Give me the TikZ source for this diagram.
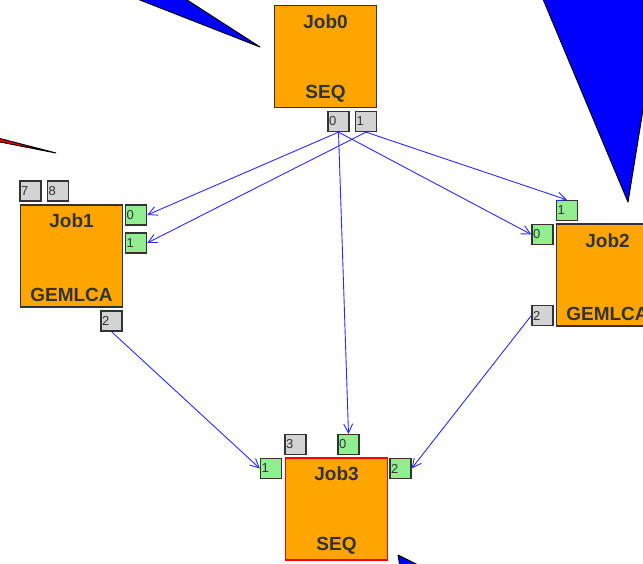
\documentclass[tikz,border=0pt]{standalone}
\usepackage{fontspec}
\setmainfont{Liberation Sans}
\usetikzlibrary{arrows,arrows.meta,positioning}
\definecolor{jobfill}{HTML}{FFA500}
\definecolor{portgray}{HTML}{D3D3D3}
\definecolor{portgreen}{HTML}{90EE90}
\definecolor{edgegray}{HTML}{333333}
\definecolor{textgray}{HTML}{333333}
\definecolor{linkblue}{HTML}{2B2BFF}
\tikzset{job/.style={draw=edgegray,fill=jobfill,line width=1.5pt,minimum width=102pt,minimum height=102pt,inner sep=0pt}}
\tikzset{jobtext/.style={text=textgray,font=\fontsize{19}{19}\selectfont\bfseries,inner sep=0pt}}
\tikzset{port/.style={draw=edgegray,line width=1.3pt,minimum width=21pt,minimum height=20pt,inner sep=1pt,text width=19pt,align=left,font=\fontsize{13}{13}\selectfont,text=textgray}}
\tikzset{inport/.style={port,fill=portgreen}}
\tikzset{outport/.style={port,fill=portgray}}
\tikzset{link/.style={-{Straight Barb[length=9pt,width=9pt]},draw=linkblue,line width=0.9pt}}
\tikzset{pointer/.style={fill=blue,draw=black,line width=1pt,line join=round}}

\begin{document}
\begin{tikzpicture}[x=1pt,y=-1pt]
\useasboundingbox (0,0) rectangle (643,563);
\fill[white] (0,0) rectangle (643,563);
\clip (0,0) rectangle (643,563);
% pointers
\path[pointer] (89,-20) -- (156,-20) -- (260,47) -- cycle;
\path[pointer] (535,-20) -- (628,202) -- (664,-20) -- cycle;
\path[pointer] (398,555) -- (432,572) -- (401,572) -- cycle;
\path[fill=red,draw=black,line width=1pt] (-10,136) -- (-10,140) -- (56,153) -- cycle;
% jobs
\node (j0) [job] at (325.5,56.5) {};
\node (j0t) [jobtext,below=10pt of j0.north] {Job0};
\node (j0b) [jobtext,above=6pt of j0.south] {SEQ};
\node (j1) [job] at (71.5,256) {};
\node (j1t) [jobtext,below=9pt of j1.north] {Job1};
\node (j1b) [jobtext,above=6pt of j1.south] {GEMLCA};
\node (j2) [job] at (607.5,275) {};
\node (j2t) [jobtext,below=10pt of j2.north] {Job2};
\node (j2b) [jobtext,above=6pt of j2.south] {GEMLCA};
\node (j3) [job,draw=red] at (336.5,509) {};
\node (j3t) [jobtext,below=9pt of j3.north] {Job3};
\node (j3b) [jobtext,above=6pt of j3.south] {SEQ};
% ports
\node (j0p0) [outport] at (338.5,121.5) {0};
\node (j0p1) [outport] at (366,121.5) {1};
\node (j1p7) [outport] at (30.5,191) {7};
\node (j1p8) [outport] at (58,191) {8};
\node (j1p0) [inport] at (136,215) {0};
\node (j1p1) [inport] at (136,243) {1};
\node (j1p2) [outport] at (111.5,321) {2};
\node (j2p1) [inport] at (567,210.5) {1};
\node (j2p0) [inport] at (542.5,234.5) {0};
\node (j2p2) [outport] at (542.5,315.5) {2};
\node (j3p1) [inport] at (271,468.5) {1};
\node (j3p3) [outport] at (295.5,444.5) {3};
\node (j3p0) [inport] at (348.5,444.5) {0};
\node (j3p2) [inport] at (400.5,468.5) {2};
% links
\draw[link] (j0p0.south) -- (j1p0.east);
\draw[link] (j0p1.south) -- (j1p1.east);
\draw[link] (j0p0.south) -- (j2p0.west);
\draw[link] (j0p1.south) -- (j2p1.north);
\draw[link] (j0p0.south) -- (j3p0.north);
\draw[link] (j1p2.south) -- (j3p1.west);
\draw[link] (j2p2.west) -- (j3p2.east);
\end{tikzpicture}
\end{document}
